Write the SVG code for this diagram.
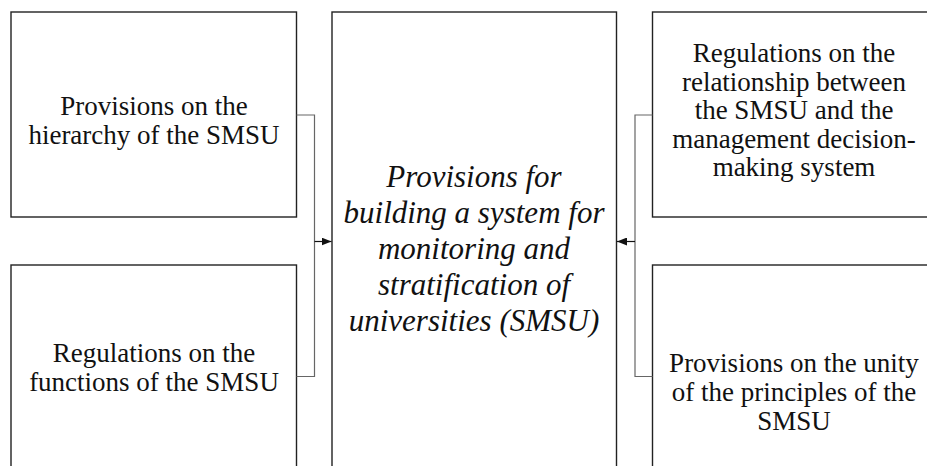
<svg xmlns="http://www.w3.org/2000/svg" width="927" height="466" viewBox="0 0 927 466">
<defs>
<style>
.box{fill:#fff;stroke:#222;stroke-width:1.4}
.t{font-family:"Liberation Serif","Times New Roman",serif;font-size:27px;fill:#111;text-anchor:middle}
.c{font-family:"Liberation Serif","Times New Roman",serif;font-size:31px;font-style:italic;fill:#111;text-anchor:middle}
.br{fill:none;stroke:#666;stroke-width:1.2}
.ar{fill:none;stroke:#111;stroke-width:1.2}
</style>
<marker id="ah" markerWidth="10" markerHeight="8" refX="10" refY="4" orient="auto" markerUnits="userSpaceOnUse">
<path d="M0,0 L10,4 L0,8 z" fill="#111"/>
</marker>
</defs>
<rect width="927" height="466" fill="#fff"/>
<g id="n1">
<rect class="box" x="11" y="12" width="285.5" height="205"/>
<text class="t" x="154" y="115">Provisions on the</text>
<text class="t" x="154" y="144">hierarchy of the SMSU</text>
</g>
<g id="n2">
<rect class="box" x="11" y="265" width="285.5" height="220"/>
<text class="t" x="154" y="362">Regulations on the</text>
<text class="t" x="154" y="391">functions of the SMSU</text>
</g>
<g id="center">
<rect class="box" x="332" y="12" width="284.5" height="480"/>
<text class="c" x="474" y="187">Provisions for</text>
<text class="c" x="474" y="223">building a system for</text>
<text class="c" x="474" y="259">monitoring and</text>
<text class="c" x="474" y="295">stratification of</text>
<text class="c" x="474" y="331">universities (SMSU)</text>
</g>
<g id="n3">
<rect class="box" x="652.5" y="12" width="290" height="205"/>
<text class="t" x="794" y="62">Regulations on the</text>
<text class="t" x="794" y="90.5">relationship between</text>
<text class="t" x="794" y="119">the SMSU and the</text>
<text class="t" x="794" y="147.5">management decision-</text>
<text class="t" x="794" y="176">making system</text>
</g>
<g id="n4">
<rect class="box" x="652.5" y="265" width="290" height="220"/>
<text class="t" x="794" y="372">Provisions on the unity</text>
<text class="t" x="794" y="401">of the principles of the</text>
<text class="t" x="794" y="430">SMSU</text>
</g>
<g id="connectors">
<path class="br" d="M296.5,115 H314.5 V376.5 H296.5"/>
<path class="ar" d="M314.5,241.5 H331.5" marker-end="url(#ah)"/>
<path class="br" d="M652.5,115 H635 V376.5 H652.5"/>
<path class="ar" d="M635,241.5 H617" marker-end="url(#ah)"/>
</g>
</svg>
